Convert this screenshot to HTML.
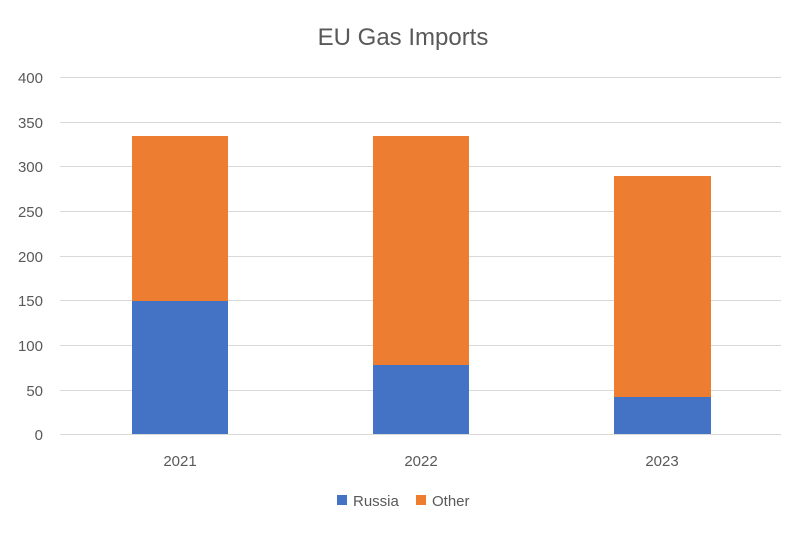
<!DOCTYPE html>
<html><head><style>
body{margin:0;background:#fff;}
svg text{font-family:"Liberation Sans",sans-serif;fill:#595959;}
</style></head><body>
<svg width="806" height="531" xmlns="http://www.w3.org/2000/svg">
<rect width="806" height="531" fill="#fff"/>
<text x="403" y="45" font-size="24" text-anchor="middle">EU Gas Imports</text>
<g stroke="#d9d9d9" stroke-width="1">
<line x1="60" x2="781" y1="77.5" y2="77.5"/>
<line x1="60" x2="781" y1="122.5" y2="122.5"/>
<line x1="60" x2="781" y1="166.5" y2="166.5"/>
<line x1="60" x2="781" y1="211.5" y2="211.5"/>
<line x1="60" x2="781" y1="256.5" y2="256.5"/>
<line x1="60" x2="781" y1="300.5" y2="300.5"/>
<line x1="60" x2="781" y1="345.5" y2="345.5"/>
<line x1="60" x2="781" y1="390.5" y2="390.5"/>
<line x1="60" x2="781" y1="434.5" y2="434.5"/>
</g>
<g font-size="15" text-anchor="end">
<text x="43" y="83">400</text>
<text x="43" y="128">350</text>
<text x="43" y="172">300</text>
<text x="43" y="217">250</text>
<text x="43" y="262">200</text>
<text x="43" y="306">150</text>
<text x="43" y="351">100</text>
<text x="43" y="396">50</text>
<text x="43" y="440">0</text>
</g>
<rect x="132" y="136" width="96" height="165" fill="#ed7d31"/>
<rect x="132" y="301" width="96" height="133" fill="#4472c4"/>
<rect x="373" y="136" width="96" height="229" fill="#ed7d31"/>
<rect x="373" y="365" width="96" height="69" fill="#4472c4"/>
<rect x="614" y="176" width="97" height="221" fill="#ed7d31"/>
<rect x="614" y="397" width="97" height="37" fill="#4472c4"/>
<g font-size="15" text-anchor="middle">
<text x="180" y="466">2021</text>
<text x="421" y="466">2022</text>
<text x="662" y="466">2023</text>
</g>
<rect x="337" y="495" width="10" height="10" fill="#4472c4"/>
<text x="353" y="506" font-size="15">Russia</text>
<rect x="416" y="495" width="10" height="10" fill="#ed7d31"/>
<text x="432" y="506" font-size="15">Other</text>
</svg>
</body></html>
